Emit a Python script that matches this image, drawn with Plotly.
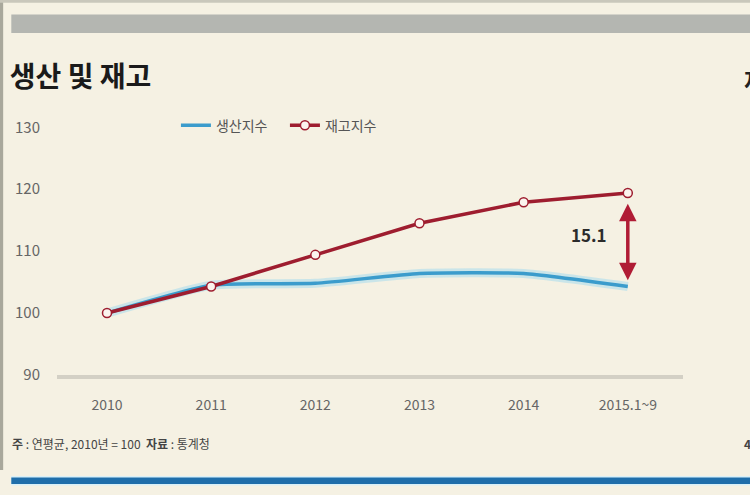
import plotly.graph_objects as go

# data
years = ["2010", "2011", "2012", "2013", "2014", "2015.1~9"]
production = [100, 104.5, 104.8, 106.4, 106.4, 104.3]   # 생산지수
inventory = [100, 104.3, 109.4, 114.5, 117.9, 119.4]    # 재고지수
y_ticks = [90, 100, 110, 120, 130]

xs = list(range(len(years)))
bg = "#f5f1e3"
red = "#9e1d2f"
blue = "#3b9ccc"
font_kr = "Noto Sans CJK KR"
narrow = "Liberation Sans Narrow, Noto Sans CJK KR"

fig = go.Figure()

# soft glow under the blue line
fig.add_trace(go.Scatter(
    x=xs, y=production, mode="lines", line=dict(color="rgba(150,215,240,0.45)", width=9, shape="spline", smoothing=0.5),
    showlegend=False, hoverinfo="skip"))
fig.add_trace(go.Scatter(
    x=xs, y=production, mode="lines", name="생산지수",
    line=dict(color=blue, width=3.5, shape="spline", smoothing=0.5)))
fig.add_trace(go.Scatter(
    x=xs, y=inventory, mode="lines+markers", name="재고지수",
    line=dict(color=red, width=3.5),
    marker=dict(symbol="circle", size=9, color="#fbf4ee", line=dict(color=red, width=1.5))))

# gap arrow at the last point
gap = inventory[-1] - production[-1]
fig.add_annotation(
    x=xs[-1], y=production[-1] + 1.0, ax=xs[-1], ay=inventory[-1] - 1.5,
    xref="x", yref="y", axref="x", ayref="y",
    text="", showarrow=True, arrowhead=2, arrowside="end+start",
    arrowsize=1.0, arrowwidth=3.5, arrowcolor="#b01c35")
fig.add_annotation(
    x=xs[-1] - 0.37, y=(inventory[-1] + production[-1]) / 2 + 0.8, xref="x", yref="y",
    text=f"<b>{gap:.1f}</b>", showarrow=False,
    font=dict(family=font_kr, size=17, color="#2b2b2b"))

# footnote
fig.add_annotation(
    x=-0.075, y=-0.265, xref="paper", yref="paper", xanchor="left", yanchor="middle",
    text="<b>주</b> : 연평균, 2010년 = 100  <b>자료</b> : 통계청", showarrow=False,
    font=dict(family=font_kr, size=12, color="#444"))

# fragments of the neighbouring chart cut at the right edge
fig.add_annotation(
    x=1.094, y=1.15, xref="paper", yref="paper", xanchor="left", yanchor="middle",
    text="<b>재</b>", showarrow=False, font=dict(family=font_kr, size=24, color="#222"))
fig.add_annotation(
    x=1.094, y=-0.265, xref="paper", yref="paper", xanchor="left", yanchor="middle",
    text="<b>4</b>", showarrow=False, font=dict(family=font_kr, size=12, color="#444"))

# decorative bars and borders
fig.add_shape(type="rect", xref="paper", yref="paper", x0=-0.073, x1=1.11, y0=1.331, y1=1.403,
              fillcolor="#b4b6b1", line=dict(width=0), layer="below")
fig.add_shape(type="rect", xref="paper", yref="paper", x0=-0.073, x1=1.11, y0=-0.43, y1=-0.393,
              fillcolor="#d9f0f8", line=dict(width=0), layer="below")
fig.add_shape(type="rect", xref="paper", yref="paper", x0=-0.073, x1=1.11, y0=-0.424, y1=-0.399,
              fillcolor="#1f6eaa", line=dict(width=0), layer="below")
fig.add_shape(type="rect", xref="paper", yref="paper", x0=-0.092, x1=-0.086, y0=-0.37, y1=1.46,
              fillcolor="#a9a89c", line=dict(width=0), layer="below")
fig.add_shape(type="rect", xref="paper", yref="paper", x0=-0.092, x1=1.11, y0=1.448, y1=1.46,
              fillcolor="#c9c7bb", line=dict(width=0), layer="below")

fig.update_layout(
    width=750, height=495,
    margin=dict(l=57, r=67, t=118, b=120),
    paper_bgcolor=bg, plot_bgcolor=bg,
    font=dict(family=font_kr, color="#666"),
    title=dict(text="<b>생산 및 재고</b>", x=0.013, xanchor="left", y=0.845, yanchor="middle",
               font=dict(family=font_kr, size=28, color="#1a1a1a")),
    legend=dict(orientation="h", x=0.19, y=0.97, xanchor="left", yanchor="middle",
                bgcolor="rgba(0,0,0,0)", font=dict(family=font_kr, size=14, color="#555"),
                itemwidth=30, entrywidth=64, entrywidthmode="pixels"),
    showlegend=True,
)
fig.update_xaxes(
    range=[-0.48, 5.53], tickvals=xs, ticktext=years, showgrid=False, zeroline=False,
    showline=True, linecolor="#d3d0c5", linewidth=4, ticks="", ticklabelstandoff=14,
    automargin=False, tickfont=dict(family=narrow, size=14, color="#666"))
fig.update_yaxes(
    range=[90, 131.5], tickvals=y_ticks, showgrid=False, zeroline=False, showline=False,
    ticks="", ticklabelstandoff=16, automargin=False,
    tickfont=dict(family=narrow, size=15, color="#666"))

fig.write_html("out.html", config={"displayModeBar": False},
               post_script="document.body.style.margin='0';")
